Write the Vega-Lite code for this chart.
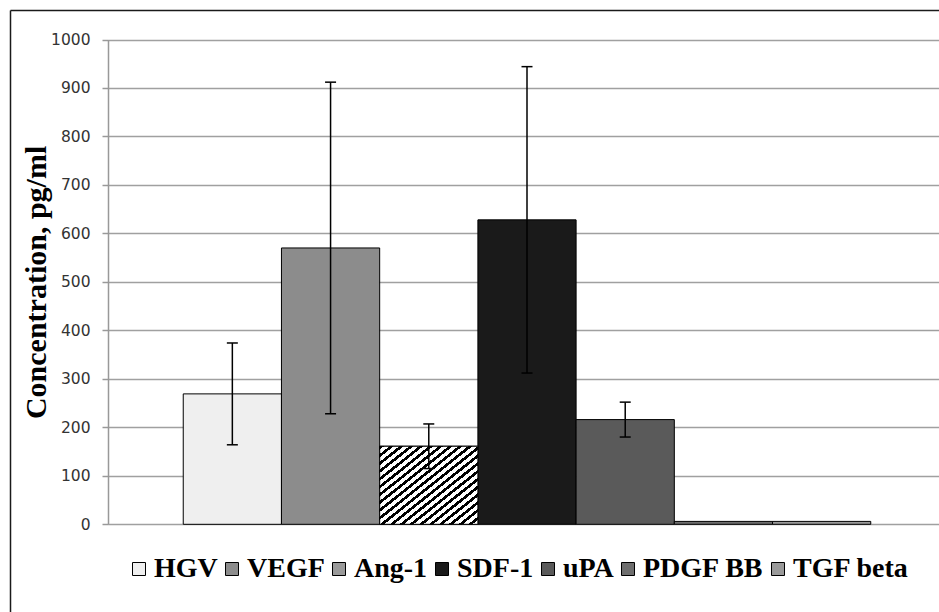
{
  "$schema": "https://vega.github.io/schema/vega-lite/v6.json",
  "width": 929,
  "height": 602,
  "autosize": {"type": "none"},
  "padding": {"left": 10, "top": 10, "right": 0, "bottom": 0},
  "background": "#ffffff",
  "config": {"view": {"stroke": null}},
  "data": {
    "values": [
      {"factor": "HGV", "value": 269, "lo": 164, "hi": 374},
      {"factor": "VEGF", "value": 570, "lo": 228, "hi": 912},
      {"factor": "Ang-1", "value": 161, "lo": 115, "hi": 207},
      {"factor": "SDF-1", "value": 628, "lo": 312, "hi": 944},
      {"factor": "uPA", "value": 216, "lo": 180, "hi": 252},
      {"factor": "PDGF BB", "value": 6, "lo": null, "hi": null},
      {"factor": "TGF beta", "value": 6, "lo": null, "hi": null}
    ]
  },
  "layer": [
    {
      "encoding": {
        "x": {
          "field": "factor",
          "type": "nominal",
          "sort": null,
          "scale": {
            "domain": ["HGV", "VEGF", "Ang-1", "SDF-1", "uPA", "PDGF BB", "TGF beta"],
            "range": [98, 936],
            "paddingInner": 0,
            "paddingOuter": 0.766
          },
          "axis": null
        }
      },
      "layer": [
        {
          "mark": {"type": "bar", "stroke": "#000000", "strokeWidth": 1},
          "encoding": {
            "y": {
              "field": "value",
              "type": "quantitative",
              "title": "Concentration, pg/ml",
              "scale": {"domain": [0, 1000], "range": [514.3, 29.5], "nice": false},
              "axis": {
                "orient": "left",
                "offset": -98,
                "values": [0, 100, 200, 300, 400, 500, 600, 700, 800, 900, 1000],
                "format": "d",
                "grid": true,
                "gridColor": "#a0a0a0",
                "gridWidth": 1.5,
                "domainColor": "#999999",
                "domainWidth": 1.5,
                "tickColor": "#999999",
                "tickSize": 6,
                "tickWidth": 1.5,
                "labelFont": "DejaVu Sans",
                "labelFontSize": 15.5,
                "labelColor": "#333333",
                "labelPadding": 12,
                "titleFont": "Liberation Serif",
                "titleFontWeight": "bold",
                "titleFontSize": 30,
                "titleColor": "#000000",
                "titlePadding": -1
              }
            },
            "color": {
              "field": "factor",
              "type": "nominal",
              "sort": null,
              "scale": {
                "domain": ["HGV", "VEGF", "Ang-1", "SDF-1", "uPA", "PDGF BB", "TGF beta"],
                "range": ["#efefef", "#8c8c8c", "#9a9a9a", "#1a1a1a", "#5a5a5a", "#6e6e6e", "#9a9a9a"]
              },
              "legend": {
                "orient": "none",
                "legendX": 115,
                "legendY": 545,
                "direction": "horizontal",
                "columns": 7,
                "title": null,
                "padding": 0,
                "symbolType": "square",
                "symbolSize": 169,
                "symbolStrokeColor": "#000000",
                "symbolStrokeWidth": 1,
                "labelFont": "Liberation Serif",
                "labelFontWeight": "bold",
                "labelFontSize": 28,
                "labelColor": "#000000",
                "labelOffset": 1,
                "columnPadding": 0,
                "labelLimit": 400
              }
            }
          }
        },
        {
          "transform": [{"filter": "datum.factor === 'Ang-1'"}],
          "mark": {
            "type": "bar",
            "stroke": "#000000",
            "strokeWidth": 1,
            "fill": {
              "gradient": "linear",
              "x1": 0, "y1": 0, "x2": 1, "y2": 1,
              "stops": [
                {"offset": 0, "color": "#000"}, {"offset": 0.022, "color": "#000"}, {"offset": 0.022, "color": "#fff"}, {"offset": 0.05, "color": "#fff"},
                {"offset": 0.05, "color": "#000"}, {"offset": 0.072, "color": "#000"}, {"offset": 0.072, "color": "#fff"}, {"offset": 0.1, "color": "#fff"},
                {"offset": 0.1, "color": "#000"}, {"offset": 0.122, "color": "#000"}, {"offset": 0.122, "color": "#fff"}, {"offset": 0.15, "color": "#fff"},
                {"offset": 0.15, "color": "#000"}, {"offset": 0.172, "color": "#000"}, {"offset": 0.172, "color": "#fff"}, {"offset": 0.2, "color": "#fff"},
                {"offset": 0.2, "color": "#000"}, {"offset": 0.222, "color": "#000"}, {"offset": 0.222, "color": "#fff"}, {"offset": 0.25, "color": "#fff"},
                {"offset": 0.25, "color": "#000"}, {"offset": 0.272, "color": "#000"}, {"offset": 0.272, "color": "#fff"}, {"offset": 0.3, "color": "#fff"},
                {"offset": 0.3, "color": "#000"}, {"offset": 0.322, "color": "#000"}, {"offset": 0.322, "color": "#fff"}, {"offset": 0.35, "color": "#fff"},
                {"offset": 0.35, "color": "#000"}, {"offset": 0.372, "color": "#000"}, {"offset": 0.372, "color": "#fff"}, {"offset": 0.4, "color": "#fff"},
                {"offset": 0.4, "color": "#000"}, {"offset": 0.422, "color": "#000"}, {"offset": 0.422, "color": "#fff"}, {"offset": 0.45, "color": "#fff"},
                {"offset": 0.45, "color": "#000"}, {"offset": 0.472, "color": "#000"}, {"offset": 0.472, "color": "#fff"}, {"offset": 0.5, "color": "#fff"},
                {"offset": 0.5, "color": "#000"}, {"offset": 0.522, "color": "#000"}, {"offset": 0.522, "color": "#fff"}, {"offset": 0.55, "color": "#fff"},
                {"offset": 0.55, "color": "#000"}, {"offset": 0.572, "color": "#000"}, {"offset": 0.572, "color": "#fff"}, {"offset": 0.6, "color": "#fff"},
                {"offset": 0.6, "color": "#000"}, {"offset": 0.622, "color": "#000"}, {"offset": 0.622, "color": "#fff"}, {"offset": 0.65, "color": "#fff"},
                {"offset": 0.65, "color": "#000"}, {"offset": 0.672, "color": "#000"}, {"offset": 0.672, "color": "#fff"}, {"offset": 0.7, "color": "#fff"},
                {"offset": 0.7, "color": "#000"}, {"offset": 0.722, "color": "#000"}, {"offset": 0.722, "color": "#fff"}, {"offset": 0.75, "color": "#fff"},
                {"offset": 0.75, "color": "#000"}, {"offset": 0.772, "color": "#000"}, {"offset": 0.772, "color": "#fff"}, {"offset": 0.8, "color": "#fff"},
                {"offset": 0.8, "color": "#000"}, {"offset": 0.822, "color": "#000"}, {"offset": 0.822, "color": "#fff"}, {"offset": 0.85, "color": "#fff"},
                {"offset": 0.85, "color": "#000"}, {"offset": 0.872, "color": "#000"}, {"offset": 0.872, "color": "#fff"}, {"offset": 0.9, "color": "#fff"},
                {"offset": 0.9, "color": "#000"}, {"offset": 0.922, "color": "#000"}, {"offset": 0.922, "color": "#fff"}, {"offset": 0.95, "color": "#fff"},
                {"offset": 0.95, "color": "#000"}, {"offset": 0.972, "color": "#000"}, {"offset": 0.972, "color": "#fff"}, {"offset": 1, "color": "#fff"}
              ]
            }
          },
          "encoding": {
            "y": {"field": "value", "type": "quantitative", "title": "Concentration, pg/ml"}
          }
        },
        {
          "mark": {"type": "rule", "color": "#000000", "strokeWidth": 1.5},
          "encoding": {
            "y": {"field": "lo", "type": "quantitative", "title": "Concentration, pg/ml"},
            "y2": {"field": "hi"}
          }
        },
        {
          "mark": {"type": "tick", "orient": "horizontal", "color": "#000000", "size": 11, "thickness": 1.5, "opacity": 1},
          "encoding": {
            "y": {"field": "hi", "type": "quantitative", "title": "Concentration, pg/ml"}
          }
        },
        {
          "mark": {"type": "tick", "orient": "horizontal", "color": "#000000", "size": 11, "thickness": 1.5, "opacity": 1},
          "encoding": {
            "y": {"field": "lo", "type": "quantitative", "title": "Concentration, pg/ml"}
          }
        }
      ]
    },
    {
      "mark": {"type": "point", "opacity": 0},
      "encoding": {
        "x": {
          "datum": 0,
          "type": "quantitative",
          "scale": {"domain": [0, 1]},
          "axis": {"orient": "top", "domain": true, "domainColor": "#1a1a1a", "domainWidth": 1.5, "ticks": false, "labels": false, "grid": false, "title": null}
        },
        "y": {
          "datum": 0,
          "type": "quantitative",
          "scale": {"domain": [0, 1]},
          "axis": {"orient": "left", "offset": 0, "domain": true, "domainColor": "#1a1a1a", "domainWidth": 1.5, "ticks": false, "labels": false, "grid": false, "title": null}
        }
      }
    }
  ],
  "resolve": {
    "scale": {"x": "independent", "y": "independent"},
    "axis": {"x": "independent", "y": "independent"}
  }
}
